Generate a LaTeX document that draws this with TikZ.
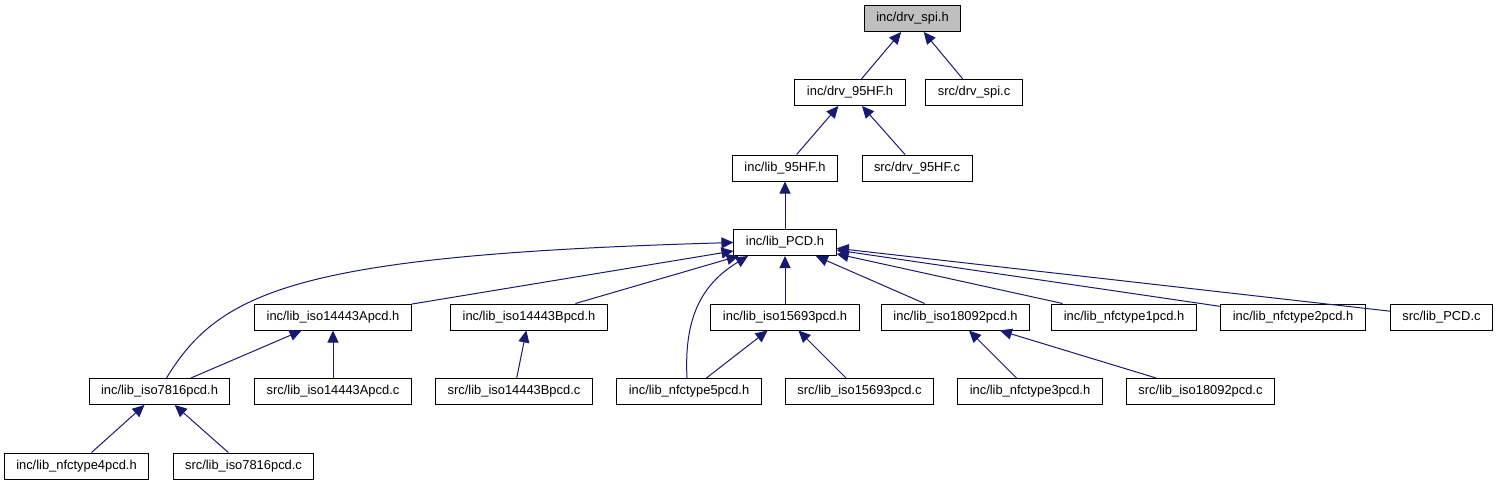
\documentclass[tikz,border=0pt]{standalone}
\usepackage{fontspec}
\setmainfont{Liberation Sans}
\usepackage{xcolor}
\usepackage{tikz}
\usetikzlibrary{arrows.meta,positioning}

\definecolor{edgeblue}{HTML}{191970}
\definecolor{rootgray}{HTML}{BFBFBF}

\begin{document}
\begin{tikzpicture}[x=1pt, y=-1pt, font=\fontsize{12.9}{15}\selectfont]
    % Stili
    \tikzstyle{filebox}=[rectangle, draw=black, line width=1pt, fill=white, minimum height=26pt, inner xsep=12pt, inner ysep=2pt, text centered]
    \tikzstyle{dep}=[-{Triangle[length=12pt, width=11pt]}, draw=edgeblue, line width=1pt]

    \useasboundingbox (0,0) rectangle (1498,485);

    % Livelli superiori
    \node (spi) [filebox, fill=rootgray] at (912.5,18.5) {inc/drv\_spi.h};
    \node (drv95h) [filebox] at (850,92.5) {inc/drv\_95HF.h};
    \node (spic) [filebox] at (974,92.5) {src/drv\_spi.c};
    \node (lib95) [filebox] at (785,168) {inc/lib\_95HF.h};
    \node (drv95c) [filebox] at (917,168) {src/drv\_95HF.c};
    \node (pcd) [filebox] at (785,242.5) {inc/lib\_PCD.h};

    % Librerie PCD
    \node (isoA) [filebox] at (333,317) {inc/lib\_iso14443Apcd.h};
    \node (isoB) [filebox] at (529,317) {inc/lib\_iso14443Bpcd.h};
    \node (iso15) [filebox] at (785,317) {inc/lib\_iso15693pcd.h};
    \node (iso18) [filebox] at (955.5,317) {inc/lib\_iso18092pcd.h};
    \node (nfc1) [filebox] at (1124,317) {inc/lib\_nfctype1pcd.h};
    \node (nfc2) [filebox] at (1293,317) {inc/lib\_nfctype2pcd.h};
    \node (pcdc) [filebox] at (1441.5,317) {src/lib\_PCD.c};

    % Secondo livello
    \node (iso7816) [filebox] at (159.5,391.5) {inc/lib\_iso7816pcd.h};
    \node (isoAc) [filebox] at (333,391.5) {src/lib\_iso14443Apcd.c};
    \node (isoBc) [filebox] at (514,391.5) {src/lib\_iso14443Bpcd.c};
    \node (nfc5) [filebox] at (689,391.5) {inc/lib\_nfctype5pcd.h};
    \node (iso15c) [filebox] at (859.5,391.5) {src/lib\_iso15693pcd.c};
    \node (nfc3) [filebox] at (1030,391.5) {inc/lib\_nfctype3pcd.h};
    \node (iso18c) [filebox] at (1200.5,391.5) {src/lib\_iso18092pcd.c};

    % Ultimo livello
    \node (nfc4) [filebox] at (76.5,466) {inc/lib\_nfctype4pcd.h};
    \node (iso7816c) [filebox] at (243.5,466) {src/lib\_iso7816pcd.c};

    % Collegamenti
    \draw [dep] (drv95h) -- (spi);
    \draw [dep] (spic) -- (spi);
    \draw [dep] (lib95) -- (drv95h);
    \draw [dep] (drv95c) -- (drv95h);
    \draw [dep] (pcd) -- (lib95);
    \draw [dep] ([xshift=7pt]iso7816.north) .. controls (220,290) and (300,255) .. (pcd.west);
    \draw [dep] (isoA) -- (pcd);
    \draw [dep] (isoB) -- (pcd);
    \draw [dep] ([xshift=-2pt]nfc5.north) .. controls (684,320) and (700,285) .. ([xshift=-37pt]pcd.south);
    \draw [dep] (iso15) -- (pcd);
    \draw [dep] (iso18) -- (pcd);
    \draw [dep] (nfc1) -- (pcd);
    \draw [dep] (nfc2) -- (pcd);
    \draw [dep] (pcdc) -- (pcd);
    \draw [dep] (iso7816) -- (isoA);
    \draw [dep] (isoAc) -- (isoA);
    \draw [dep] (isoBc) -- (isoB);
    \draw [dep] (nfc5) -- (iso15);
    \draw [dep] (iso15c) -- (iso15);
    \draw [dep] (nfc3) -- (iso18);
    \draw [dep] (iso18c) -- (iso18);
    \draw [dep] (nfc4) -- (iso7816);
    \draw [dep] (iso7816c) -- (iso7816);

\end{tikzpicture}
\end{document}
